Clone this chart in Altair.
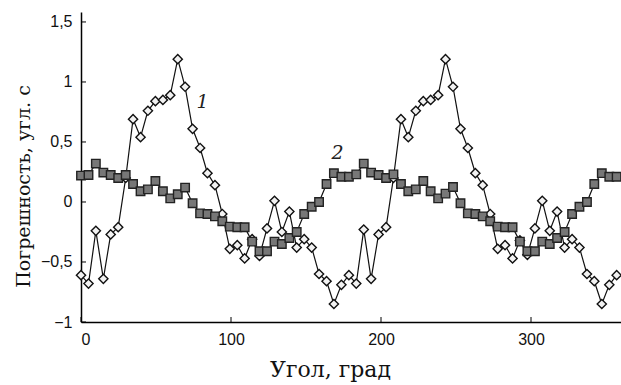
import altair as alt
import pandas as pd

# angles (deg), 73 samples over one revolution
angles = [0, 5.0, 9.9, 14.9, 19.8, 24.8, 29.8, 34.7, 39.7, 44.6, 49.6, 54.6, 59.5, 64.5,
          69.4, 74.4, 79.4, 84.3, 89.3, 94.2, 99.2, 104.2, 109.1, 114.1, 119.0, 124.0,
          129.0, 133.9, 138.9, 143.8, 148.8, 153.8, 158.7, 163.7, 168.6, 173.6, 178.6,
          183.5, 188.5, 193.4, 198.4, 203.4, 208.3, 213.3, 218.2, 223.2, 228.2, 233.1,
          238.1, 243.0, 248.0, 253.0, 257.9, 262.9, 267.8, 272.8, 277.8, 282.7, 287.7,
          292.6, 297.6, 302.6, 307.5, 312.5, 317.4, 322.4, 327.4, 332.3, 337.3, 342.2,
          347.2, 352.2, 357.1]

# curve 1 (open diamonds)
err1 = [-0.61, -0.68, -0.24, -0.64, -0.27, -0.21, 0.20, 0.69, 0.54, 0.76, 0.84, 0.85,
        0.89, 1.19, 0.96, 0.61, 0.45, 0.24, 0.14, -0.10, -0.39, -0.36, -0.47, -0.31,
        -0.45, -0.22, 0.01, -0.25, -0.08, -0.38, -0.31, -0.38, -0.60, -0.66, -0.85, -0.69,
        -0.61, -0.68, -0.23, -0.64, -0.27, -0.21, 0.20, 0.69, 0.54, 0.76, 0.84, 0.85,
        0.89, 1.19, 0.96, 0.61, 0.45, 0.24, 0.14, -0.10, -0.39, -0.36, -0.47, -0.32,
        -0.44, -0.22, 0.01, -0.24, -0.08, -0.38, -0.31, -0.38, -0.60, -0.66, -0.85, -0.69,
        -0.61]

# curve 2 (filled squares)
err2 = [0.22, 0.225, 0.32, 0.245, 0.225, 0.20, 0.225, 0.15, 0.09, 0.105, 0.175, 0.09,
        0.03, 0.065, 0.12, -0.01, -0.095, -0.10, -0.12, -0.16, -0.205, -0.21, -0.21, -0.33,
        -0.41, -0.41, -0.33, -0.35, -0.30, -0.25, -0.10, -0.04, 0.00, 0.15, 0.24, 0.21,
        0.21, 0.23, 0.32, 0.245, 0.225, 0.20, 0.23, 0.15, 0.09, 0.105, 0.175, 0.09,
        0.03, 0.07, 0.125, -0.01, -0.095, -0.10, -0.12, -0.16, -0.205, -0.21, -0.21, -0.33,
        -0.41, -0.41, -0.33, -0.35, -0.30, -0.25, -0.10, -0.04, 0.00, 0.15, 0.24, 0.21,
        0.21]

x_ticks = [0, 100, 200, 300]
y_ticks = [-1, -0.5, 0, 0.5, 1, 1.5]

note_text = ["1", "2"]
note_x = [81, 171]
note_y = [0.83, 0.41]

W, H = 540, 310
xs = alt.Scale(domain=[0, 360], nice=False, zero=False)
ys = alt.Scale(domain=[-1, 1.583], nice=False, zero=False)

SERIF = "DejaVu Serif"


def X(field):
    return alt.X(field, type="quantitative", scale=xs,
                 axis=alt.Axis(values=x_ticks, title="Угол, град", ticks=False,
                               labelPadding=9, titleX=249, titleY=54, titleFontSize=22,
                               titleBaseline="alphabetic", titleAlign="center"))


def Y(field):
    return alt.Y(field, type="quantitative", scale=ys,
                 axis=alt.Axis(values=y_ticks, title="Погрешность, угл. с", ticks=False,
                               labelPadding=9, titleX=-52, titleY=174, titleAngle=270,
                               titleFontSize=19,
                               titleBaseline="alphabetic", titleAlign="center",
                               labelExpr="replace(format(datum.value, '~f'), '.', ',')"))


df = pd.DataFrame({"angle": angles, "e1": err1, "e2": err2})
base = alt.Chart(df)

line1 = base.mark_line(color="#111", strokeWidth=1.2).encode(x=X("angle"), y=Y("e1"))
pts1 = base.mark_point(shape="diamond", size=85, filled=True, fill="#f2f2f2",
                       stroke="#111", strokeWidth=1.4, opacity=1).encode(x=X("angle"), y=Y("e1"))
line2 = base.mark_line(color="#111", strokeWidth=1.2).encode(x=X("angle"), y=Y("e2"))
pts2 = base.mark_point(shape="square", size=72, filled=True, fill="#777777",
                       stroke="#222", strokeWidth=1.4, opacity=1).encode(x=X("angle"), y=Y("e2"))

xt = alt.Chart(pd.DataFrame({"t": x_ticks})).mark_rule(color="black", strokeWidth=1).encode(
    x=X("t"), y=alt.value(H), y2=alt.value(H - 5))
yt = alt.Chart(pd.DataFrame({"t": y_ticks})).mark_rule(color="black", strokeWidth=1).encode(
    y=Y("t"), x=alt.value(0), x2=alt.value(5))

notes = alt.Chart(pd.DataFrame({"a": note_x, "v": note_y, "s": note_text})).mark_text(
    font=SERIF, fontStyle="italic", fontSize=19, color="#222").encode(
    x=X("a"), y=Y("v"), text="s:N")

chart = alt.layer(line1, pts1, line2, pts2, xt, yt, notes).properties(
    width=W, height=H,
    autosize=alt.AutoSizeParams(type="none"),
    padding={"left": 81, "top": 12, "right": 0, "bottom": 63},
).configure_view(stroke=None).configure_axis(
    domainColor="black", domainWidth=1.5, grid=False,
    labelFont="Liberation Sans", labelFontSize=16, labelColor="#111",
    titleFont=SERIF, titleFontWeight="normal", titleColor="#111",
)

chart.save("out.html", embed_options={"renderer": "svg", "actions": False})
